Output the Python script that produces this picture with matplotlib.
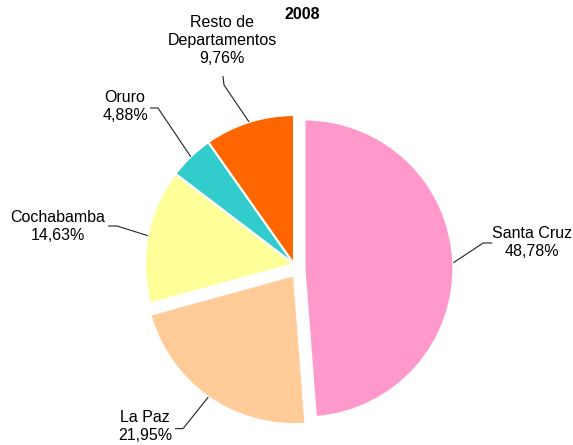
import matplotlib.pyplot as plt
import numpy as np
import matplotlib

matplotlib.rcParams['font.family'] = ['Liberation Sans', 'DejaVu Sans']

# Data (percent of total, 2008)
departamentos = ['Santa Cruz', 'La Paz', 'Cochabamba', 'Oruro', 'Resto de\nDepartamentos']
valores = [48.78, 21.95, 14.63, 4.88, 9.76]
colores = ['#FF99CC', '#FFCC99', '#FFFF99', '#33CCCC', '#FF6600']
anio = '2008'

fig = plt.figure(figsize=(5.73, 4.45), dpi=100)
ax = fig.add_axes([0, 0, 1, 1])

wedges, _ = ax.pie(valores, colors=colores, startangle=90, counterclock=False,
                   radius=1.0, wedgeprops=dict(edgecolor='white', linewidth=1.5))

# exploded slices (Excel style offsets)
offsets = {0: (0.070, -0.030), 1: (0.0, -0.075)}
for i, off in offsets.items():
    wedges[i].set_center(off)

# label positions and leader elbows (data units, r = 1)
label_pos = [(1.597, 0.141), (-1.0, -1.092), (-1.584, 0.255), (-1.134, 1.054), (-0.483, 1.503)]
leader_start = [(1.331, 0.141), (-0.799, -1.105), (-1.248, 0.255), (-0.966, 1.047), (-0.477, 1.262)]
leader_elbow = [(1.270, 0.141), (-0.745, -1.105), (-1.188, 0.255), (-0.913, 1.047), (-0.470, 1.201)]

for i, w in enumerate(wedges):
    mid = np.deg2rad((w.theta1 + w.theta2) / 2)
    cx, cy = w.center
    ex, ey = cx + np.cos(mid), cy + np.sin(mid)
    xs = [leader_start[i][0], leader_elbow[i][0], ex]
    ys = [leader_start[i][1], leader_elbow[i][1], ey]
    ax.plot(xs, ys, color='#222222', linewidth=0.8, solid_capstyle='butt')
    pct = f'{valores[i]:.2f}%'.replace('.', ',')
    ax.text(label_pos[i][0], label_pos[i][1], f'{departamentos[i]}\n{pct}',
            ha='center', va='center', multialignment='center',
            fontsize=11.5, linespacing=1.25, color='black')

ax.text(0.054, 1.678, anio, ha='center', va='center', fontsize=11.5, fontweight='bold')

ax.set_xlim(-1.973, 1.872)
ax.set_ylim(-1.215, 1.772)
ax.set_aspect('equal', adjustable='box')
ax.axis('off')

plt.savefig('out.png', dpi=100)
plt.close()
